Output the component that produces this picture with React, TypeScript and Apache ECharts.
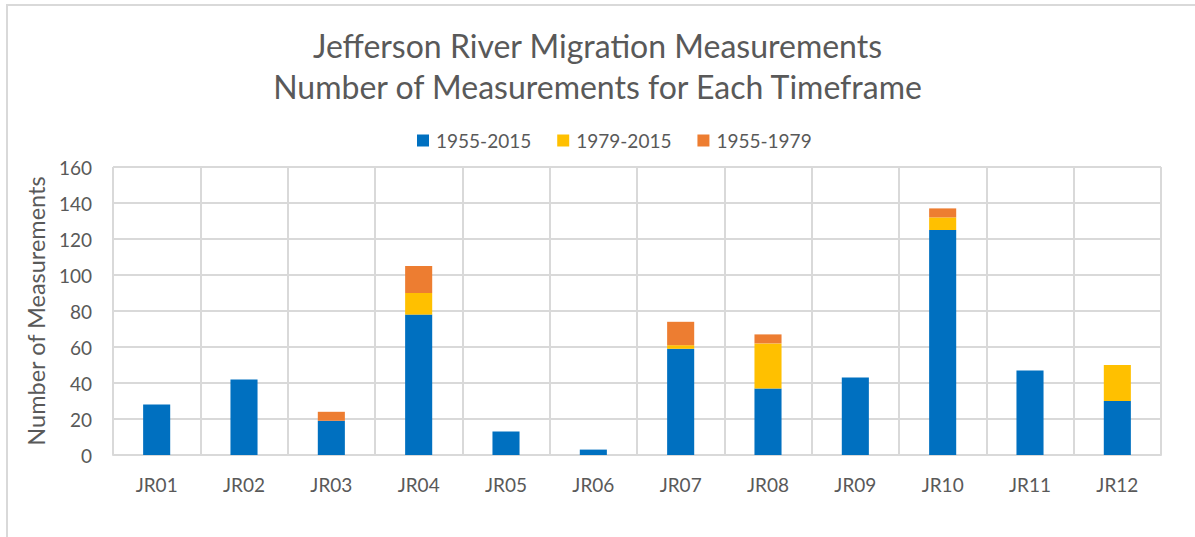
import React, { useEffect, useRef } from "react";
import * as echarts from "echarts";

const categories = ["JR01", "JR02", "JR03", "JR04", "JR05", "JR06", "JR07", "JR08", "JR09", "JR10", "JR11", "JR12"];
const s1955_2015 = [28, 42, 19, 78, 13, 3, 59, 37, 43, 125, 47, 30];
const s1979_2015 = [0, 0, 0, 12, 0, 0, 2, 25, 0, 7, 0, 20];
const s1955_1979 = [0, 0, 5, 15, 0, 0, 13, 5, 0, 5, 0, 0];
const seriesNames = ["1955-2015", "1979-2015", "1955-1979"];
const colors = ["#0070C0", "#FFC000", "#ED7D31"];

const FONT = "Lato";

export default function App() {
  const ref = useRef<HTMLDivElement>(null);
  useEffect(() => {
    if (!ref.current) return;
    const chart = echarts.init(ref.current, undefined, { renderer: "svg" });
    const data = [s1955_2015, s1979_2015, s1955_1979];
    chart.setOption({
      animation: false,
      backgroundColor: "#ffffff",
      textStyle: { fontFamily: FONT },
      title: {
        text: "Jefferson River Migration Measurements\nNumber of Measurements for Each Timeframe",
        left: "center",
        top: 20,
        textStyle: { fontFamily: FONT, fontSize: 32, fontWeight: "normal", color: "#595959", lineHeight: 41 },
      },
      legend: {
        top: 126,
        left: 412,
        itemWidth: 12,
        itemHeight: 12,
        itemGap: 26,
        icon: "rect",
        textStyle: { fontFamily: FONT, fontSize: 19, color: "#595959", padding: [0, 0, 0, 2] },
        data: seriesNames,
      },
      graphic: [
        {
          type: "rect",
          shape: { x: 7, y: 5, width: 1200, height: 540 },
          style: { fill: "none", stroke: "#d9d9d9", lineWidth: 2 },
          silent: true,
        },
      ],
      grid: { left: 113, right: 34, top: 167, bottom: 82, containLabel: false },
      xAxis: {
        type: "category",
        data: categories,
        axisLine: { lineStyle: { color: "#d9d9d9", width: 2 } },
        axisTick: { show: false },
        axisLabel: { color: "#595959", fontSize: 19, fontFamily: FONT, margin: 20 },
        splitLine: { show: true, interval: 0, lineStyle: { color: "#d9d9d9", width: 2 } },
      },
      yAxis: {
        type: "value",
        min: 0,
        max: 160,
        interval: 20,
        name: "Number of Measurements",
        nameLocation: "middle",
        nameRotate: 90,
        nameGap: 64,
        nameTextStyle: { color: "#595959", fontSize: 23.5, fontFamily: FONT },
        axisLine: { show: false },
        axisTick: { show: false },
        axisLabel: { color: "#595959", fontSize: 19, fontFamily: FONT, margin: 21 },
        splitLine: { lineStyle: { color: "#d9d9d9", width: 2 } },
      },
      series: seriesNames.map((name, i) => ({
        name,
        type: "bar",
        stack: "total",
        data: data[i],
        barWidth: "31%",
        itemStyle: { color: colors[i] },
      })),
    });
    return () => chart.dispose();
  }, []);
  return <div ref={ref} style={{ position: "fixed", left: 0, top: 0, width: 1195, height: 537 }} />;
}
